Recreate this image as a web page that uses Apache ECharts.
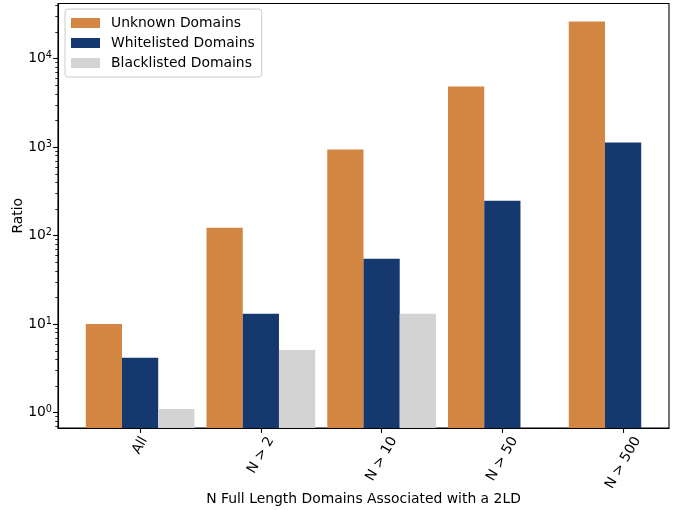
<!DOCTYPE html>
<html>
<head>
<meta charset="utf-8">
<script src="https://cdn.jsdelivr.net/npm/echarts@6/dist/echarts.min.js"></script>
<style>html,body{margin:0;padding:0;background:#fff}#c{width:676px;height:510px}</style>
</head>
<body>
<div id="c"></div>
<script>
// ---- data ----
const categories = ['All', 'N > 2', 'N > 10', 'N > 50', 'N > 500'];
const unknownValues = [10, 123, 940, 4830, 26300];
const whitelistedValues = [4.16, 13.1, 54.8, 248, 1125];
const blacklistedValues = [1.1, 5.1, 13.1, null, null];
const seriesNames = ['Unknown Domains', 'Whitelisted Domains', 'Blacklisted Domains'];
const yMajorTicks = [1, 10, 100, 1000, 10000];
const yMinorTicks = [0.7, 0.8, 0.9, 2, 3, 4, 5, 6, 7, 8, 9, 20, 30, 40, 50, 60, 70, 80, 90,
  200, 300, 400, 500, 600, 700, 800, 900, 2000, 3000, 4000, 5000, 6000, 7000, 8000, 9000,
  20000, 30000, 40000];

// ---- layout / style ----
const FONT = 'DejaVu Sans';
const FS = 13.9;
const Y_MIN = 0.67, Y_MAX = 42000;
const X_MIN = -0.68, X_MAX = 4.38;
const BAR_W = 0.3;
const colors = ['#D38641', '#15396F', '#D3D3D3'];
const offsets = [-0.3, 0, 0.3];

// per-label padding so rotated labels are centred under ticks (matplotlib style)
const ctx = document.createElement('canvas').getContext('2d');
ctx.font = FS + 'px "' + FONT + '"';
const LH = 16;
const rich = {};
categories.forEach((c, i) => {
  const L = ctx.measureText(c).width;
  const h = 0.866 * L + 0.5 * LH;
  const dy = 1.5 + h / 2;
  rich['c' + i] = {
    fontFamily: FONT, fontSize: FS, lineHeight: LH, color: '#000',
    padding: [dy, 1.732 * dy, 0, 0]
  };
});

function makeSeries(k, values) {
  const data = [];
  values.forEach((v, i) => { if (v != null) data.push([i, v]); });
  return {
    type: 'custom',
    name: seriesNames[k],
    coordinateSystem: 'cartesian2d',
    itemStyle: { color: colors[k] },
    encode: { x: 0, y: 1 },
    data: data,
    renderItem: function (params, api) {
      const x = api.value(0), v = api.value(1);
      const p1 = api.coord([x + offsets[k] - BAR_W / 2, v]);
      const p2 = api.coord([x + offsets[k] + BAR_W / 2, Y_MIN]);
      return {
        type: 'rect',
        shape: { x: p1[0], y: p1[1], width: p2[0] - p1[0], height: p2[1] - p1[1] },
        style: { fill: colors[k] }
      };
    }
  };
}

const chart = echarts.init(document.getElementById('c'), null, { renderer: 'canvas' });
chart.setOption({
  animation: false,
  backgroundColor: '#fff',
  textStyle: { fontFamily: FONT },
  grid: {
    left: 58, right: 7, top: 3.5, bottom: 82,
    containLabel: false, outerBoundsMode: 'none',
    show: true, borderColor: '#000', borderWidth: 1.1, backgroundColor: 'transparent'
  },
  legend: {
    orient: 'vertical', left: 65, top: 9,
    padding: [6, 7, 6, 6],
    itemWidth: 29, itemHeight: 10, itemGap: 4,
    icon: 'rect',
    borderColor: '#cccccc', borderWidth: 1, borderRadius: 3,
    backgroundColor: 'rgba(255,255,255,0.8)',
    textStyle: { fontFamily: FONT, fontSize: FS, color: '#000', lineHeight: LH, padding: [0, 0, 0, 6] },
    data: seriesNames
  },
  xAxis: {
    type: 'value', min: X_MIN, max: X_MAX,
    name: 'N Full Length Domains Associated with a 2LD',
    nameLocation: 'middle', nameGap: 64, nameMoveOverlap: false,
    nameTextStyle: { fontFamily: FONT, fontSize: FS, color: '#000' },
    axisLine: { show: true, onZero: false, lineStyle: { color: '#000', width: 1.1 } },
    axisTick: { show: true, length: 4.9, lineStyle: { color: '#000', width: 1.1 }, customValues: [0, 1, 2, 3, 4] },
    axisLabel: {
      customValues: [0, 1, 2, 3, 4],
      rotate: 60, margin: 4.5, align: 'center', verticalAlign: 'middle',
      formatter: function (v) { const i = Math.round(v); return '{c' + i + '|' + categories[i] + '}'; },
      rich: rich
    },
    splitLine: { show: false }
  },
  yAxis: [{
    type: 'log', logBase: 10, min: Y_MIN, max: Y_MAX,
    name: 'Ratio', nameLocation: 'middle', nameGap: 33, nameRotate: 90, nameMoveOverlap: false,
    nameTextStyle: { fontFamily: FONT, fontSize: FS, color: '#000' },
    axisLine: { show: true, onZero: false, lineStyle: { color: '#000', width: 1.1 } },
    axisTick: { show: true, length: 4.9, lineStyle: { color: '#000', width: 1.1 }, customValues: yMajorTicks },
    axisLabel: {
      customValues: yMajorTicks, margin: 6,
      formatter: function (v) { return '{b|10}{s|' + Math.round(Math.log10(v)) + '}'; },
      rich: {
        b: { fontFamily: FONT, fontSize: FS, lineHeight: 16, color: '#000' },
        s: { fontFamily: FONT, fontSize: 9.7, lineHeight: 11, color: '#000', verticalAlign: 'top' }
      }
    },
    splitLine: { show: false }
  }, {
    type: 'log', logBase: 10, min: Y_MIN, max: Y_MAX, position: 'left',
    axisLine: { show: false, onZero: false },
    axisTick: { show: true, length: 2.8, lineStyle: { color: '#000', width: 0.8 }, customValues: yMinorTicks },
    axisLabel: { show: false },
    splitLine: { show: false }
  }],
  series: [
    makeSeries(0, unknownValues),
    makeSeries(1, whitelistedValues),
    makeSeries(2, blacklistedValues)
  ]
});
</script>
</body>
</html>
